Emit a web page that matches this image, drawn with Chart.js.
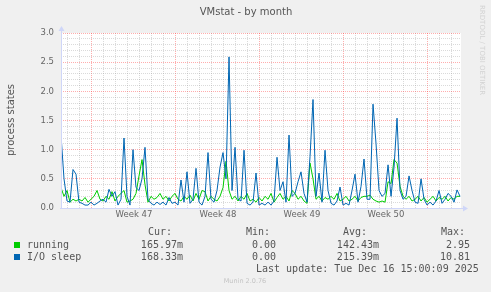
<!DOCTYPE html>
<html>
<head>
<meta charset="utf-8">
<style>
  html, body { margin: 0; padding: 0; background: #F0F0F0; }
  #vmstat { display: block; }
</style>
</head>
<body>
<canvas id="vmstat" width="491" height="292"></canvas>

<script src="https://cdn.jsdelivr.net/npm/chart.js/dist/chart.umd.min.js"></script>
<script>
// setup: one sample every 6 hours, x in days from Sun 16 Nov (first week line)
const startDay = -2.58;
const stepDays = 0.25;
const spanDays = 33.33;

const running = [
  0.35, 0.2, 0.3, 0.1, 0.15, 0.12, 0.15, 0.12, 0.18, 0.1,
  0.15, 0.2, 0.3, 0.15, 0.12, 0.2, 0.15, 0.28, 0.12, 0.2,
  0.25, 0.3, 0.1, 0.12, 0.15, 0.25, 0.55, 0.83, 0.4, 0.1,
  0.2, 0.15, 0.18, 0.25, 0.15, 0.2, 0.12, 0.2, 0.25, 0.15,
  0.12, 0.2, 0.15, 0.22, 0.12, 0.25, 0.15, 0.3, 0.28, 0.12,
  0.2, 0.15, 0.12, 0.2, 0.35, 0.8, 0.3, 0.15, 0.2, 0.12,
  0.2, 0.15, 0.25, 0.12, 0.15, 0.1, 0.18, 0.12, 0.2, 0.15,
  0.25, 0.1, 0.18, 0.25, 0.15, 0.2, 0.12, 0.3, 0.25, 0.15,
  0.2, 0.12, 0.08, 0.77, 0.5, 0.15, 0.2, 0.12, 0.18, 0.15,
  0.2, 0.15, 0.25, 0.12, 0.15, 0.2, 0.12, 0.15, 0.2, 0.12,
  0.18, 0.2, 0.2, 0.22, 0.15, 0.12, 0.1, 0.12, 0.1, 0.45,
  0.42, 0.83, 0.77, 0.37, 0.2, 0.15, 0.2, 0.12, 0.15, 0.2,
  0.12, 0.18, 0.1, 0.15, 0.2, 0.12, 0.18, 0.15, 0.2, 0.12,
  0.18, 0.15, 0.2, 0.2
];
const ioSleep = [
  1.25, 0.5, 0.12, 0.1, 0.66, 0.58, 0.1, 0.08, 0.05, 0.05,
  0.1, 0.05, 0.08, 0.12, 0.15, 0.1, 0.32, 0.2, 0.28, 0.05,
  0.15, 1.2, 0.2, 0.05, 1.0, 0.35, 0.3, 0.5, 1.04, 0.15,
  0.08, 0.05, 0.1, 0.06, 0.1, 0.05, 0.18, 0.08, 0.1, 0.05,
  0.48, 0.1, 0.62, 0.08, 0.15, 0.68, 0.1, 0.05, 0.2, 0.95,
  0.15, 0.1, 0.3, 0.7, 0.95, 0.5, 2.59, 0.3, 1.04, 0.15,
  0.12, 0.99, 0.08, 0.05, 0.1, 0.6, 0.05, 0.08, 0.05, 0.1,
  0.05, 0.12, 0.87, 0.3, 0.45, 0.1, 1.25, 0.2, 0.25, 0.45,
  0.62, 0.25, 0.1, 0.88, 1.86, 0.2, 0.6, 0.1, 0.99, 0.3,
  0.08, 0.05, 0.12, 0.36, 0.05, 0.08, 0.05, 0.3, 0.58, 0.1,
  0.37, 0.84, 0.15, 0.15, 1.78, 1.1, 0.3, 0.2, 0.25, 0.74,
  0.2, 0.7, 1.54, 0.3, 0.15, 0.2, 0.55, 0.3, 0.1, 0.08,
  0.5, 0.15, 0.05, 0.1, 0.05, 0.12, 0.3, 0.08, 0.15, 0.25,
  0.2, 0.1, 0.31, 0.2
];

const weekLabels = ['Week 47', 'Week 48', 'Week 49', 'Week 50'];
const seriesNames = ['running', 'I/O sleep'];
const curVals = ['165.97m', '168.33m'];
const minVals = ['0.00', '0.00'];
const avgVals = ['142.43m', '215.39m'];
const maxVals = ['2.95', '10.81'];
const lastUpdate = 'Last update: Tue Dec 16 15:00:09 2025';

const GREEN = '#00CC00';
const BLUE = '#0066B3';
const MAJOR = 'rgba(255, 40, 40, 0.38)';
const MINOR = 'rgba(150, 150, 150, 0.35)';
const AXIS = '#CFD6F8';
const FONT = '#666666';

const toPoints = vals => vals.map((v, i) => ({ x: startDay + i * stepDays, y: v }));

// page background, white canvas, axes, texts
const muninLook = {
  id: 'muninLook',
  beforeDraw(chart) {
    const { ctx, chartArea: a } = chart;
    ctx.save();
    ctx.fillStyle = '#F0F0F0';
    ctx.fillRect(0, 0, chart.width, chart.height);
    ctx.fillStyle = '#FFFFFF';
    ctx.fillRect(a.left, a.top, a.right - a.left, a.bottom - a.top);
    ctx.restore();
  },
  afterDraw(chart) {
    const { ctx, chartArea: a } = chart;
    ctx.save();

    // axes with arrows
    ctx.strokeStyle = AXIS;
    ctx.fillStyle = AXIS;
    ctx.lineWidth = 1;
    ctx.beginPath();
    ctx.moveTo(a.left + 0.5, a.bottom + 1);
    ctx.lineTo(a.left + 0.5, a.top - 3);
    ctx.moveTo(a.left - 1, a.bottom + 0.5);
    ctx.lineTo(a.right + 3, a.bottom + 0.5);
    ctx.stroke();
    ctx.beginPath();
    ctx.moveTo(a.left - 2.5, a.top - 2);
    ctx.lineTo(a.left + 3.5, a.top - 2);
    ctx.lineTo(a.left + 0.5, a.top - 7);
    ctx.closePath();
    ctx.fill();
    ctx.beginPath();
    ctx.moveTo(a.right + 2, a.bottom - 2.5);
    ctx.lineTo(a.right + 2, a.bottom + 3.5);
    ctx.lineTo(a.right + 7, a.bottom + 0.5);
    ctx.closePath();
    ctx.fill();

    // title and y title
    ctx.fillStyle = '#555555';
    ctx.textBaseline = 'middle';
    ctx.textAlign = 'center';
    ctx.font = '10px "DejaVu Sans"';
    ctx.fillText('VMstat - by month', 246, 12);
    ctx.save();
    ctx.translate(11, 120);
    ctx.rotate(-Math.PI / 2);
    ctx.fillText('process states', 0, 0);
    ctx.restore();

    // legend
    ctx.font = '10px "DejaVu Sans Mono"';
    ctx.textAlign = 'left';
    ctx.fillText('Cur:', 148, 232);
    ctx.fillText('Min:', 246, 232);
    ctx.fillText('Avg:', 343, 232);
    ctx.fillText('Max:', 441, 232);
    [GREEN, BLUE].forEach((c, i) => {
      const y = 245 + i * 12;
      ctx.fillStyle = c;
      ctx.fillRect(14, y - 3, 6, 6);
      ctx.fillStyle = '#555555';
      ctx.textAlign = 'left';
      ctx.fillText(seriesNames[i], 27, y);
      ctx.textAlign = 'right';
      ctx.fillText(curVals[i], 183, y);
      ctx.fillText(minVals[i], 276, y);
      ctx.fillText(avgVals[i], 379, y);
      ctx.fillText(maxVals[i], 470, y);
    });
    ctx.textAlign = 'left';
    ctx.fillText(lastUpdate, 256, 269);

    ctx.font = '6.5px "DejaVu Sans"';
    ctx.fillStyle = '#C4C4C4';
    ctx.textAlign = 'center';
    ctx.fillText('Munin 2.0.76', 245, 281);

    // rrdtool watermark
    ctx.font = '7px "DejaVu Sans"';
    ctx.fillStyle = '#D2D2D2';
    ctx.textAlign = 'left';
    ctx.textBaseline = 'alphabetic';
    ctx.translate(479.5, 5);
    ctx.rotate(Math.PI / 2);
    ctx.fillText('RRDTOOL / TOBI OETIKER', 0, 0);
    ctx.restore();
  }
};

const data = {
  datasets: [
    { label: seriesNames[0], data: toPoints(running), borderColor: GREEN, order: 1 },
    { label: seriesNames[1], data: toPoints(ioSleep), borderColor: BLUE, order: 0 }
  ]
};

const config = {
  type: 'line',
  data,
  options: {
    responsive: false,
    animation: false,
    layout: { padding: { left: 0, top: 33, right: 30, bottom: 64 } },
    elements: {
      line: { borderWidth: 1, tension: 0, fill: false },
      point: { radius: 0 }
    },
    plugins: { legend: { display: false }, tooltip: { enabled: false } },
    scales: {
      x: {
        type: 'linear',
        min: startDay,
        max: startDay + spanDays,
        afterFit: s => { s.height = 20; },
        afterBuildTicks: s => {
          const t = [];
          for (let d = -2; d <= 30; d++) t.push({ value: d });
          weekLabels.forEach((_, k) => t.push({ value: k * 7 + 3.5 }));
          s.ticks = t;
        },
        border: { display: false, dash: [1, 1] },
        grid: {
          drawTicks: false,
          color: c => {
            const v = c.tick.value;
            if (!Number.isInteger(v)) return 'rgba(0,0,0,0)';
            return v % 7 === 0 ? MAJOR : MINOR;
          }
        },
        ticks: {
          autoSkip: false,
          maxRotation: 0,
          padding: 2,
          color: FONT,
          font: { family: 'DejaVu Sans', size: 8.5 },
          callback: v => Number.isInteger(v) ? '' : weekLabels[(v - 3.5) / 7]
        }
      },
      y: {
        min: 0,
        max: 3,
        afterFit: s => { s.width = 61; },
        border: { display: false, dash: [1, 1] },
        grid: {
          drawTicks: false,
          color: c => Math.round(c.tick.value * 10) % 5 === 0 ? MAJOR : MINOR
        },
        ticks: {
          stepSize: 0.1,
          autoSkip: false,
          padding: 7,
          color: FONT,
          font: { family: 'DejaVu Sans', size: 8.5 },
          callback: v => Math.round(v * 10) % 5 === 0 ? v.toFixed(1) : ''
        }
      }
    }
  },
  plugins: [muninLook]
};

const vmChart = new Chart(document.getElementById('vmstat'), config);
</script>
</body>
</html>
